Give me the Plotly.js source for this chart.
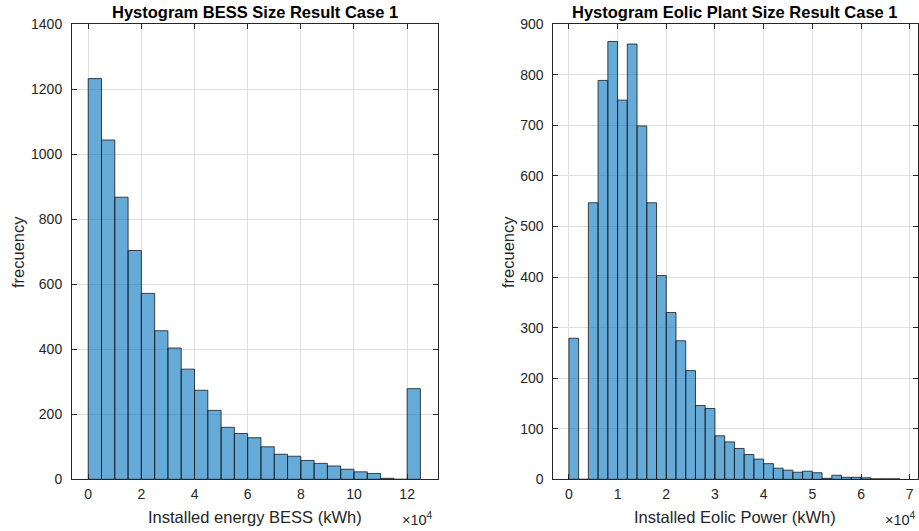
<!DOCTYPE html>
<html>
<head>
<meta charset="utf-8">
<script src="https://cdn.plot.ly/plotly-3.0.1.min.js"></script>
<style>
  html, body { margin: 0; padding: 0; background: #fff; }
  #chart { width: 919px; height: 531px; }
</style>
</head>
<body>
<div id="chart"></div>
<script>
// BESS installed energy histogram: 25 bins of 5000 kWh starting at 0
const bessBinStart = 0;
const bessBinWidth = 5000;
const bessCounts = [1233, 1044, 868, 704, 572, 457, 404, 339, 274, 212,
                    160, 141, 128, 100, 77, 71, 58, 49, 41, 31,
                    23, 18, 3, 0, 279];

// Eolic plant installed power histogram: 34 bins of 2000 starting at 0
const eolicBinStart = 0;
const eolicBinWidth = 2000;
const eolicCounts = [279, 0, 547, 789, 866, 750, 861, 699, 547, 403,
                     330, 274, 215, 146, 140, 86, 74, 61, 49, 40,
                     31, 22, 18, 14, 16, 13, 2, 8, 4, 4,
                     3, 1, 1, 1];

// Tick labels (values shown in units of 10^4)
const bessTickLabels = ['0', '2', '4', '6', '8', '10', '12'];
const eolicTickLabels = ['0', '1', '2', '3', '4', '5', '6', '7'];
const bessYTicks = [0, 200, 400, 600, 800, 1000, 1200, 1400];
const eolicYTicks = [0, 100, 200, 300, 400, 500, 600, 700, 800, 900];

const binCenters = (start, width, counts) =>
  counts.map((_, i) => start + width * (i + 0.5));

const barFill = 'rgba(0,114,189,0.6)';
const barEdge = 'rgb(25,25,25)';
const axisColor = 'rgb(38,38,38)';
const gridColor = 'rgb(223,223,223)';
const fontFamily = 'Liberation Sans, Arial, sans-serif';

const traces = [
  {
    type: 'bar',
    x: binCenters(bessBinStart, bessBinWidth, bessCounts),
    y: bessCounts,
    width: bessBinWidth,
    marker: { color: barFill, line: { color: barEdge, width: 0.8 } },
    xaxis: 'x', yaxis: 'y',
    hoverinfo: 'x+y'
  },
  {
    type: 'bar',
    x: binCenters(eolicBinStart, eolicBinWidth, eolicCounts),
    y: eolicCounts,
    width: eolicBinWidth,
    marker: { color: barFill, line: { color: barEdge, width: 0.8 } },
    xaxis: 'x2', yaxis: 'y2',
    hoverinfo: 'x+y'
  }
];

const commonAxis = {
  showline: true,
  linecolor: axisColor,
  linewidth: 1,
  mirror: 'ticks',
  ticks: 'inside',
  ticklen: 5,
  tickcolor: axisColor,
  showgrid: true,
  gridcolor: gridColor,
  gridwidth: 1,
  zeroline: false,
  ticklabelstandoff: 6,
  tickfont: { family: fontFamily, size: 14, color: axisColor }
};

const yDomain = [1 - 479.3 / 531, 1 - 24.3 / 531];

const titleFont = { family: fontFamily, size: 16.5, color: '#000' };
const labelFont = { family: fontFamily, size: 16.5, color: axisColor };
const expFont = { family: fontFamily, size: 14.5, color: axisColor };

const layout = {
  width: 919,
  height: 531,
  margin: { l: 0, r: 0, t: 0, b: 0 },
  paper_bgcolor: '#ffffff',
  plot_bgcolor: '#ffffff',
  showlegend: false,
  bargap: 0,
  font: { family: fontFamily, color: axisColor },
  xaxis: Object.assign({}, commonAxis, {
    domain: [72 / 919, 437.7 / 919],
    range: [-6100, 131500],
    tickvals: bessTickLabels.map(t => Number(t) * 10000),
    ticktext: bessTickLabels,
    ticklabelstandoff: 2,
    anchor: 'y'
  }),
  yaxis: Object.assign({}, commonAxis, {
    domain: yDomain,
    range: [0, 1400],
    tickvals: bessYTicks,
    anchor: 'x'
  }),
  xaxis2: Object.assign({}, commonAxis, {
    domain: [553.3 / 919, 917.5 / 919],
    range: [-3200, 71600],
    tickvals: eolicTickLabels.map(t => Number(t) * 10000),
    ticktext: eolicTickLabels,
    ticklabelstandoff: 2,
    anchor: 'y2'
  }),
  yaxis2: Object.assign({}, commonAxis, {
    domain: yDomain,
    range: [0, 900],
    tickvals: eolicYTicks,
    anchor: 'x2'
  }),
  annotations: [
    { text: '<b>Hystogram BESS Size Result Case 1</b>', xref: 'paper', yref: 'paper',
      x: (72 + 437.7) / 2 / 919, y: 1 - 12 / 531, xanchor: 'center', yanchor: 'middle',
      showarrow: false, font: titleFont },
    { text: '<b>Hystogram Eolic Plant Size Result Case 1</b>', xref: 'paper', yref: 'paper',
      x: (553.3 + 917.5) / 2 / 919, y: 1 - 12 / 531, xanchor: 'center', yanchor: 'middle',
      showarrow: false, font: titleFont },
    { text: 'Installed energy BESS (kWh)', xref: 'paper', yref: 'paper',
      x: (72 + 437.7) / 2 / 919, y: 1 - 517 / 531, xanchor: 'center', yanchor: 'middle',
      showarrow: false, font: labelFont },
    { text: 'Installed Eolic Power (kWh)', xref: 'paper', yref: 'paper',
      x: (553.3 + 917.5) / 2 / 919, y: 1 - 517 / 531, xanchor: 'center', yanchor: 'middle',
      showarrow: false, font: labelFont },
    { text: 'frecuency', xref: 'paper', yref: 'paper', textangle: -90,
      x: 18 / 919, y: 1 - 252 / 531, xanchor: 'center', yanchor: 'middle',
      showarrow: false, font: labelFont },
    { text: 'frecuency', xref: 'paper', yref: 'paper', textangle: -90,
      x: 508 / 919, y: 1 - 252 / 531, xanchor: 'center', yanchor: 'middle',
      showarrow: false, font: labelFont },
    { text: '×10<sup>4</sup>', xref: 'paper', yref: 'paper',
      x: 435 / 919, y: 1 - 519 / 531, xanchor: 'right', yanchor: 'middle',
      showarrow: false, font: expFont },
    { text: '×10<sup>4</sup>', xref: 'paper', yref: 'paper',
      x: 918 / 919, y: 1 - 519 / 531, xanchor: 'right', yanchor: 'middle',
      showarrow: false, font: expFont }
  ]
};

Plotly.newPlot('chart', traces, layout, { displayModeBar: false, staticPlot: true });
</script>
</body>
</html>
